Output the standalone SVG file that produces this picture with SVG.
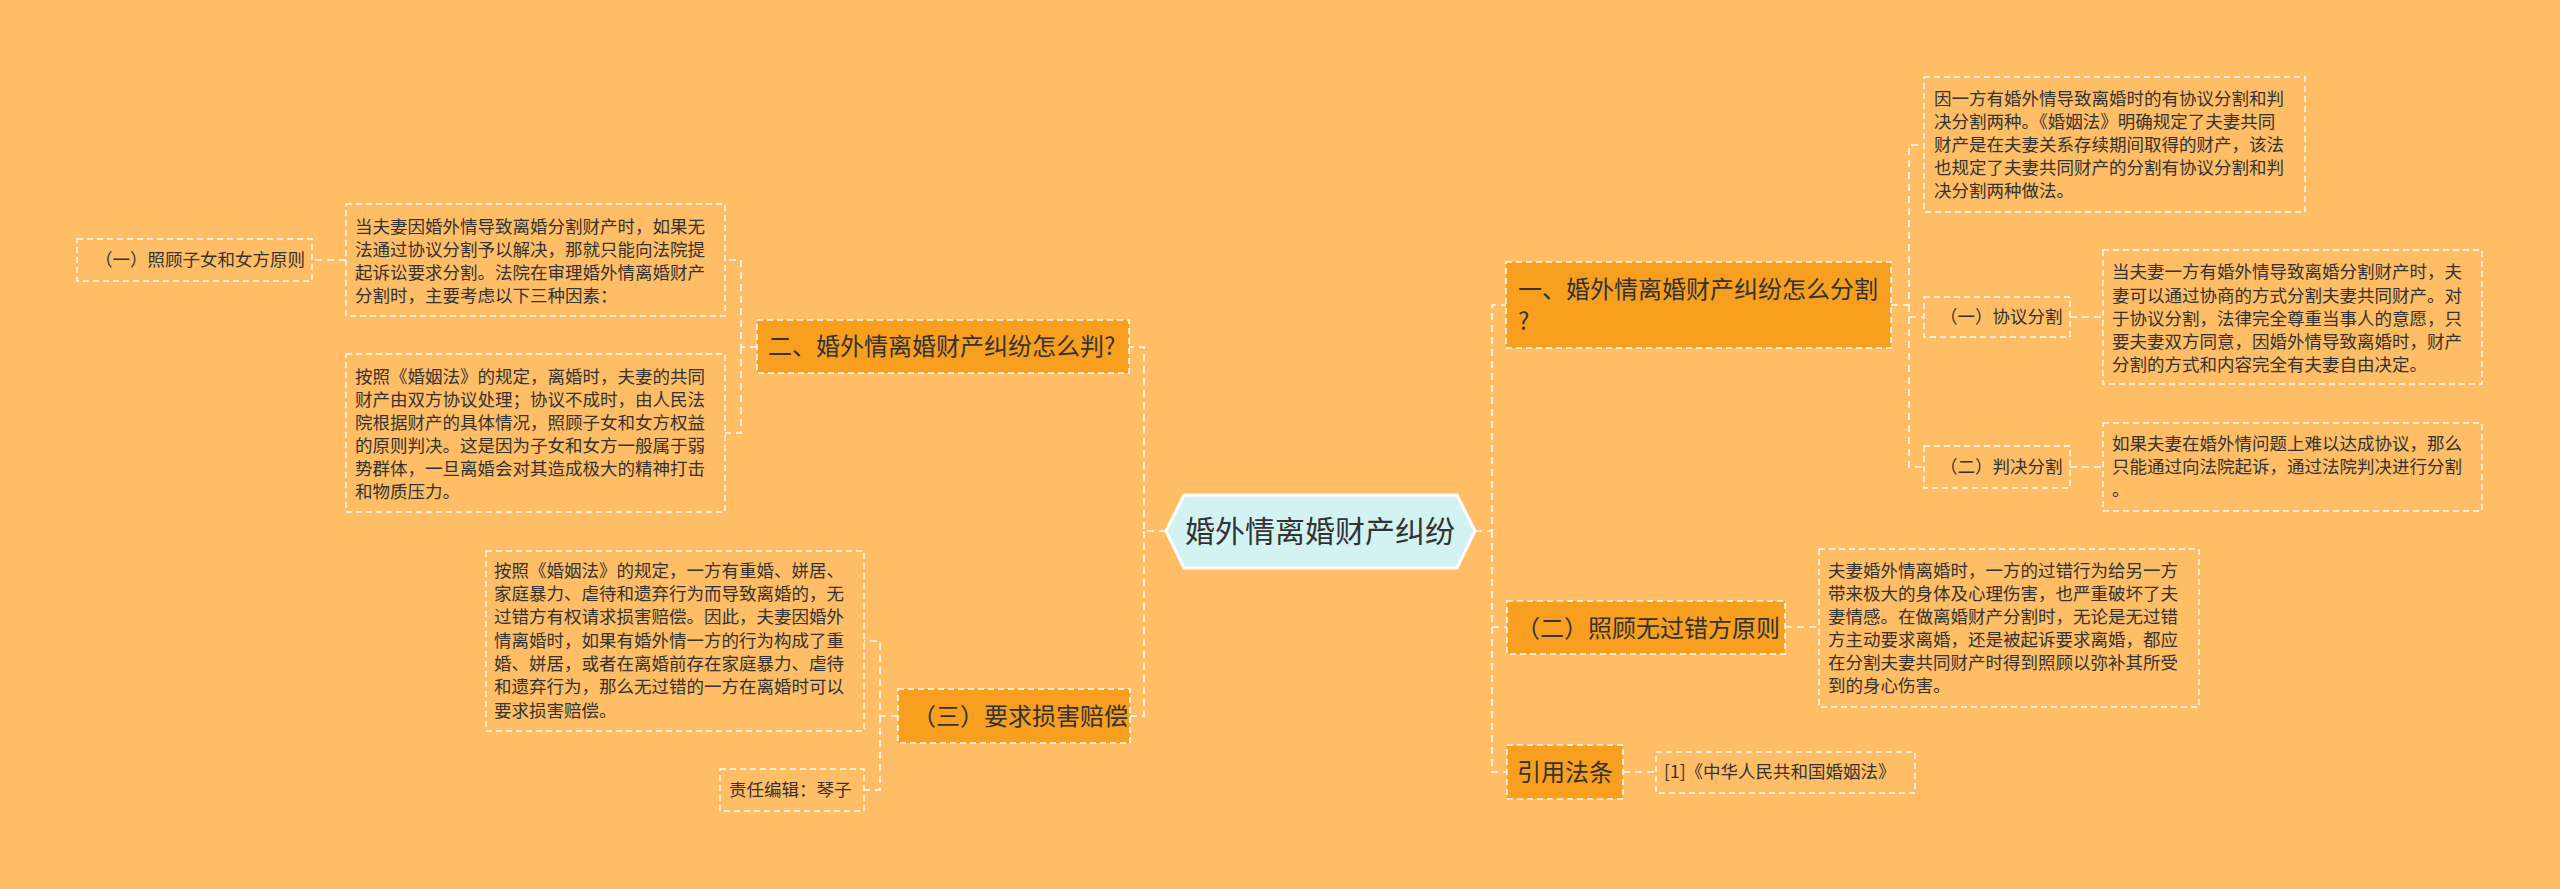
<svg xmlns="http://www.w3.org/2000/svg" width="2560" height="889" viewBox="0 0 2560 889">
<style>
text{font-family:"Noto Sans CJK SC","Liberation Sans",sans-serif;fill:#333}
.b{fill:#f89f1f;stroke:#fff;stroke-width:1.6;stroke-dasharray:6 4}
.l{fill:none;stroke:#fff;stroke-width:1.4;stroke-dasharray:6 4}
.bt{font-size:24px}
.lt{font-size:17.5px}
.c{fill:none;stroke:#fff;stroke-width:1.6;stroke-dasharray:7 5}
</style>
<rect width="2560" height="889" fill="#ffbe65"/>
<g id="connectors">
<path class="c" d="M1166 531H1144V347H1129M1144 531V716H1130"/>
<path class="c" d="M757 347H741V260H725M741 347V433H725M346 260H312"/>
<path class="c" d="M898 716H880V641H864M880 716V790H864"/>
<path class="c" d="M1475 531H1492V305H1506M1492 531V627H1507M1492 627V772H1507"/>
<path class="c" d="M1891 305H1909V145H1924M1909 305V317H1924M1909 317V467H1924M2070 317H2103M2070 467H2103"/>
<path class="c" d="M1785 627H1819M1623 772H1656"/>
</g>
<g id="center"><polygon points="1166,531 1184,495 1457,495 1475,531 1457,568 1184,568" fill="#d3f3f3" stroke="#fff" stroke-width="3"/><text x="1320" y="542" font-size="30" text-anchor="middle">婚外情离婚财产纠纷</text></g>
<g id="b2"><rect class="b" x="757" y="320" width="372" height="53"/><text class="bt" x="768" y="355">二、婚外情离婚财产纠纷怎么判?</text></g>
<g id="l21"><rect class="l" x="346" y="204" width="379" height="112"/><text class="lt" x="355"><tspan x="355" y="233">当夫妻因婚外情导致离婚分割财产时，如果无</tspan><tspan x="355" y="256">法通过协议分割予以解决，那就只能向法院提</tspan><tspan x="355" y="279">起诉讼要求分割。法院在审理婚外情离婚财产</tspan><tspan x="355" y="302">分割时，主要考虑以下三种因素：</tspan></text></g>
<g id="l211"><rect class="l" x="77" y="239" width="235" height="42"/><text class="lt" x="95" y="266">（一）照顾子女和女方原则</text></g>
<g id="l22"><rect class="l" x="346" y="354" width="379" height="158"/><text class="lt"><tspan x="355" y="383">按照《婚姻法》的规定，离婚时，夫妻的共同</tspan><tspan x="355" y="406">财产由双方协议处理；协议不成时，由人民法</tspan><tspan x="355" y="429">院根据财产的具体情况，照顾子女和女方权益</tspan><tspan x="355" y="452">的原则判决。这是因为子女和女方一般属于弱</tspan><tspan x="355" y="475">势群体，一旦离婚会对其造成极大的精神打击</tspan><tspan x="355" y="498">和物质压力。</tspan></text></g>
<g id="b3"><rect class="b" x="898" y="689" width="232" height="54"/><text class="bt" x="912" y="725">（三）要求损害赔偿</text></g>
<g id="l31"><rect class="l" x="486" y="551" width="378" height="180"/><text class="lt"><tspan x="494" y="577">按照《婚姻法》的规定，一方有重婚、姘居、</tspan><tspan x="494" y="600">家庭暴力、虐待和遗弃行为而导致离婚的，无</tspan><tspan x="494" y="623">过错方有权请求损害赔偿。因此，夫妻因婚外</tspan><tspan x="494" y="647">情离婚时，如果有婚外情一方的行为构成了重</tspan><tspan x="494" y="670">婚、姘居，或者在离婚前存在家庭暴力、虐待</tspan><tspan x="494" y="693">和遗弃行为，那么无过错的一方在离婚时可以</tspan><tspan x="494" y="717">要求损害赔偿。</tspan></text></g>
<g id="l32"><rect class="l" x="720" y="769" width="144" height="42"/><text class="lt" x="729" y="796">责任编辑：琴子</text></g>
<g id="b1"><rect class="b" x="1506" y="262" width="385" height="86"/><text class="bt"><tspan x="1518" y="298">一、婚外情离婚财产纠纷怎么分割</tspan><tspan x="1518" y="330">?</tspan></text></g>
<g id="l11"><rect class="l" x="1924" y="77" width="381" height="135"/><text class="lt"><tspan x="1934" y="105">因一方有婚外情导致离婚时的有协议分割和判</tspan><tspan x="1934" y="128">决分割两种。《婚姻法》明确规定了夫妻共同</tspan><tspan x="1934" y="151">财产是在夫妻关系存续期间取得的财产，该法</tspan><tspan x="1934" y="174">也规定了夫妻共同财产的分割有协议分割和判</tspan><tspan x="1934" y="197">决分割两种做法。</tspan></text></g>
<g id="l12"><rect class="l" x="1924" y="297" width="146" height="40"/><text class="lt" x="1940" y="323">（一）协议分割</text></g>
<g id="l121"><rect class="l" x="2103" y="250" width="379" height="134"/><text class="lt"><tspan x="2112" y="278">当夫妻一方有婚外情导致离婚分割财产时，夫</tspan><tspan x="2112" y="302">妻可以通过协商的方式分割夫妻共同财产。对</tspan><tspan x="2112" y="325">于协议分割，法律完全尊重当事人的意愿，只</tspan><tspan x="2112" y="348">要夫妻双方同意，因婚外情导致离婚时，财产</tspan><tspan x="2112" y="371">分割的方式和内容完全有夫妻自由决定。</tspan></text></g>
<g id="l13"><rect class="l" x="1924" y="446" width="146" height="42"/><text class="lt" x="1940" y="473">（二）判决分割</text></g>
<g id="l131"><rect class="l" x="2103" y="423" width="379" height="88"/><text class="lt"><tspan x="2112" y="450">如果夫妻在婚外情问题上难以达成协议，那么</tspan><tspan x="2112" y="473">只能通过向法院起诉，通过法院判决进行分割</tspan><tspan x="2112" y="496">。</tspan></text></g>
<g id="b4"><rect class="b" x="1507" y="601" width="278" height="53"/><text class="bt" x="1516" y="637">（二）照顾无过错方原则</text></g>
<g id="l41"><rect class="l" x="1819" y="549" width="380" height="158"/><text class="lt"><tspan x="1828" y="577">夫妻婚外情离婚时，一方的过错行为给另一方</tspan><tspan x="1828" y="600">带来极大的身体及心理伤害，也严重破坏了夫</tspan><tspan x="1828" y="623">妻情感。在做离婚财产分割时，无论是无过错</tspan><tspan x="1828" y="646">方主动要求离婚，还是被起诉要求离婚，都应</tspan><tspan x="1828" y="669">在分割夫妻共同财产时得到照顾以弥补其所受</tspan><tspan x="1828" y="692">到的身心伤害。</tspan></text></g>
<g id="b5"><rect class="b" x="1507" y="745" width="116" height="54"/><text class="bt" x="1517" y="781">引用法条</text></g>
<g id="l51"><rect class="l" x="1656" y="752" width="259" height="41"/><text class="lt" x="1664" y="778">[1]《中华人民共和国婚姻法》</text></g>
</svg>
